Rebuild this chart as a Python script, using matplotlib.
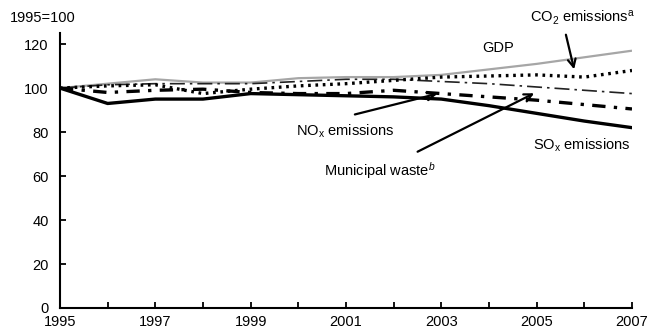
import matplotlib.pyplot as plt

plt.rcParams['font.family'] = ['Liberation Sans Narrow', 'Liberation Sans', 'DejaVu Sans']
plt.rcParams['mathtext.fontset'] = 'custom'
plt.rcParams['mathtext.rm'] = 'Liberation Sans'
plt.rcParams['mathtext.it'] = 'Liberation Sans:italic'

# Index values, 1995=100
years = list(range(1995, 2008))
gdp = [100, 102, 104, 102.5, 102.5, 104.5, 105, 105, 106, 108.5, 111, 114, 117]
sox = [100, 93, 95, 95, 97.5, 97, 96.5, 96, 95, 92, 88.5, 85, 82]
co2 = [100, 101, 101.5, 97.5, 99.5, 101, 102, 103.5, 105, 105.5, 106, 105, 108]
waste = [100, 101.5, 102, 102, 102, 103, 104, 104, 103, 102, 100.5, 99, 97.5]
nox = [100, 98, 99, 99.5, 98, 97.5, 97.5, 99, 97.5, 96, 94.5, 92.5, 90.5]

tick_years = list(range(1995, 2008, 2))
yticks = [0, 20, 40, 60, 80, 100, 120]

fig = plt.figure(figsize=(6.47, 3.31), dpi=100)
ax = fig.add_axes([0.0927, 0.0695, 0.8841, 0.8305])

ax.plot(years, gdp, color='#a6a6a6', lw=1.6, solid_capstyle='butt')
ax.plot(years, waste, color='#222222', lw=1.2, linestyle=(0, (9, 3, 1.5, 3)))
ax.plot(years, co2, color='black', lw=2.4, linestyle=(0, (0.8, 1.4)))
ax.plot(years, nox, color='black', lw=2.4, linestyle=(0, (4, 2.5, 1, 2.5)))
ax.plot(years, sox, color='black', lw=2.4)

ax.set_xlim(1995, 2007)
ax.set_ylim(0, 125)
ax.set_xticks(years)
ax.set_xticklabels([str(y) if y in tick_years else '' for y in years])
ax.set_yticks(yticks)

for side in ['top', 'right']:
    ax.spines[side].set_visible(False)
for side in ['left', 'bottom']:
    ax.spines[side].set_linewidth(1.5)

fs = 10.5
ax.tick_params(direction='in', length=4, width=1.3, labelsize=fs)
ax.tick_params(axis='y', pad=8)
ax.tick_params(axis='x', pad=5)

ax.text(-0.088, 1.055, '1995=100', transform=ax.transAxes, fontsize=fs, va='center', ha='left')

arrow = dict(arrowstyle='->', color='black', lw=1.6, mutation_scale=14)
ax.annotate('', xy=(2005.8, 107.3), xytext=(2005.6, 125.5), arrowprops=arrow)
ax.text(2005.97, 131.8, r'CO$_\mathrm{2}$ emissions$^\mathrm{a}$', fontsize=fs, ha='center', va='center')
ax.text(2004.19, 118.2, 'GDP', fontsize=fs, ha='center', va='center')
ax.annotate('', xy=(2002.97, 97.7), xytext=(2001.13, 87.7), arrowprops=arrow)
ax.text(2000.98, 80.5, r'NO$_\mathrm{x}$ emissions', fontsize=fs, ha='center', va='center')
ax.annotate('', xy=(2005.0, 98.2), xytext=(2002.45, 70.5), arrowprops=arrow)
ax.text(2001.71, 62.7, r'Municipal waste$^\mathit{b}$', fontsize=fs, ha='center', va='center')
ax.text(2005.95, 74, r'SO$_\mathrm{x}$ emissions', fontsize=fs, ha='center', va='center')

fig.savefig('out.png', dpi=100)
